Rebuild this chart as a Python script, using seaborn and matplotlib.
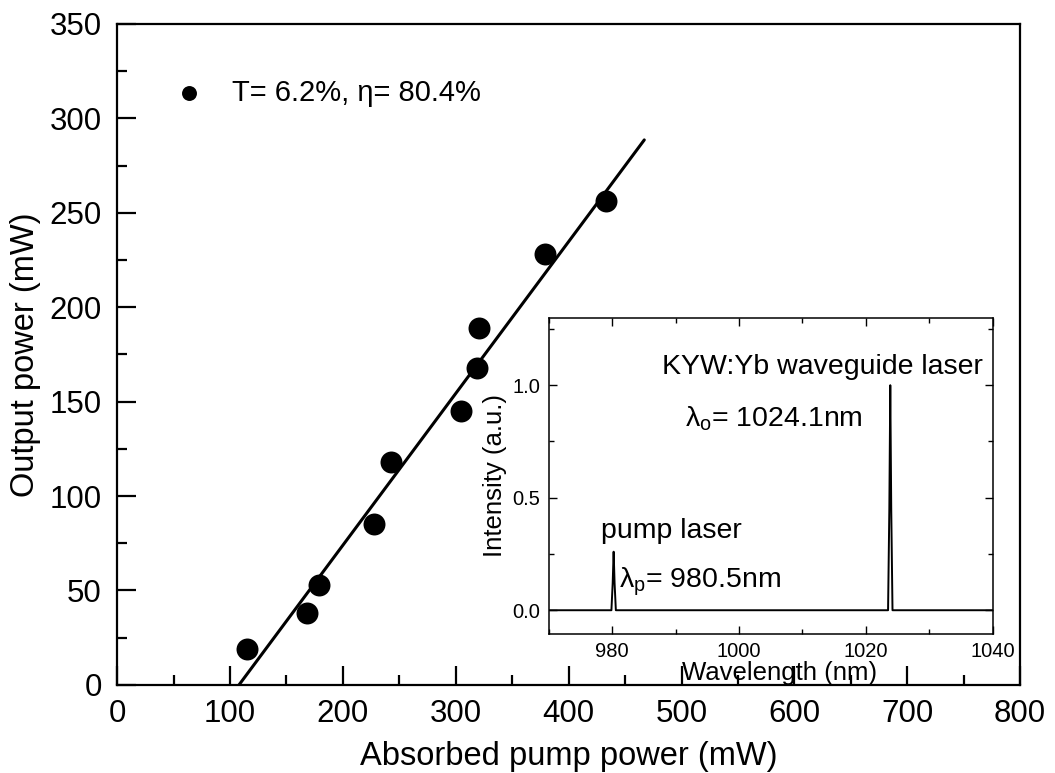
import matplotlib
matplotlib.use("Agg")
import matplotlib.pyplot as plt
import seaborn as sns
import pandas as pd
from matplotlib.ticker import MultipleLocator

# ---- data ----
pump_power = [115, 168, 179, 228, 243, 305, 319, 321, 379, 433]
output_power = [19, 38, 53, 85, 118, 145, 168, 189, 228, 256]
fit_x = [108, 467]
fit_y = [0, 288.6]

wavelength = [970, 979.9, 980.1, 980.25, 980.4, 980.6, 1023.5, 1023.7, 1023.85, 1024.0, 1024.2, 1040]
intensity = [0.0, 0.0, 0.12, 0.26, 0.12, 0.0, 0.0, 0.45, 1.0, 0.45, 0.0, 0.0]

legend_label = "T= 6.2%, \u03b7= 80.4%"

sns.set_theme(style="ticks")
plt.rcParams['font.family'] = ['Liberation Sans', 'DejaVu Sans']
plt.rcParams['axes.linewidth'] = 1.6
plt.rcParams['text.color'] = 'black'
plt.rcParams['axes.labelcolor'] = 'black'
plt.rcParams['xtick.color'] = 'black'
plt.rcParams['ytick.color'] = 'black'
plt.rcParams['axes.edgecolor'] = 'black'
plt.rcParams['mathtext.fontset'] = 'custom'
plt.rcParams['mathtext.rm'] = 'Liberation Sans'
plt.rcParams['mathtext.it'] = 'Liberation Sans'
plt.rcParams['mathtext.bf'] = 'Liberation Sans:bold'

fig = plt.figure(figsize=(10.55, 7.73), dpi=100)
ax = fig.add_axes([0.111, 0.114, 0.856, 0.855])

df = pd.DataFrame({"x": pump_power, "y": output_power})
sns.scatterplot(data=df, x="x", y="y", ax=ax, color="black", s=250,
                edgecolor="black", linewidth=0, label=legend_label, zorder=3)
sns.lineplot(x=fit_x, y=fit_y, ax=ax, color="black", linewidth=2.2, zorder=2)

ax.set_xlim(0, 800)
ax.set_ylim(0, 350)
ax.xaxis.set_major_locator(MultipleLocator(100))
ax.xaxis.set_minor_locator(MultipleLocator(50))
ax.yaxis.set_major_locator(MultipleLocator(50))
ax.yaxis.set_minor_locator(MultipleLocator(25))
ax.tick_params(which="both", direction="in", top=False, right=False,
               labelsize=22.5, width=1.6, colors="black")
ax.tick_params(which="major", length=14, pad=10)
ax.tick_params(axis="y", which="major", pad=11)
ax.tick_params(which="minor", length=7)
ax.set_xlabel("Absorbed pump power (mW)", fontsize=23.5, labelpad=9, color="black")
ax.set_ylabel("Output power (mW)", fontsize=23.5, labelpad=6, color="black")
for s in ax.spines.values():
    s.set_color("black")

leg = ax.legend(loc="upper left", bbox_to_anchor=(0.034, 0.935), frameon=False,
                fontsize=21, markerscale=0.68, handletextpad=0.5, borderaxespad=0,
                labelcolor="black")

# ---- inset ----
ins = fig.add_axes([0.520, 0.180, 0.421, 0.409])
sns.lineplot(x=wavelength, y=intensity, ax=ins, color="black", linewidth=1.4)
ins.set_xlim(970, 1040)
ins.set_ylim(-0.105, 1.3)
ins.xaxis.set_major_locator(MultipleLocator(20))
ins.xaxis.set_minor_locator(MultipleLocator(10))
ins.yaxis.set_major_locator(MultipleLocator(0.5))
ins.yaxis.set_minor_locator(MultipleLocator(0.25))
ins.tick_params(which="both", direction="in", top=True, right=True,
                labelsize=14.5, width=1.0, colors="black")
ins.tick_params(which="major", length=6, pad=6)
ins.tick_params(which="minor", length=3.5)
ins.set_xlabel("Wavelength (nm)", fontsize=18.5, labelpad=0, color="black")
ins.xaxis.set_label_coords(0.52, -0.085)
ins.xaxis.label.set_va("top")
ins.set_ylabel("Intensity (a.u.)", fontsize=18.5, labelpad=4, color="black")
for s in ins.spines.values():
    s.set_color("black")
    s.set_linewidth(1.1)

ins.text(1038.4, 1.08, "KYW:Yb waveguide laser", fontsize=20.5, ha="right", va="center", color="black")
ins.text(991.5, 0.85, "$\\mathrm{\u03bb}_\\mathrm{o}$= 1024.1nm", fontsize=20.5, ha="left", va="center", color="black")
ins.text(978.2, 0.35, "pump laser", fontsize=20.5, ha="left", va="center", color="black")
ins.text(981.1, 0.128, "$\\mathrm{\u03bb}_\\mathrm{p}$= 980.5nm", fontsize=20.5, ha="left", va="center", color="black")

fig.savefig("out.png", dpi=100)
